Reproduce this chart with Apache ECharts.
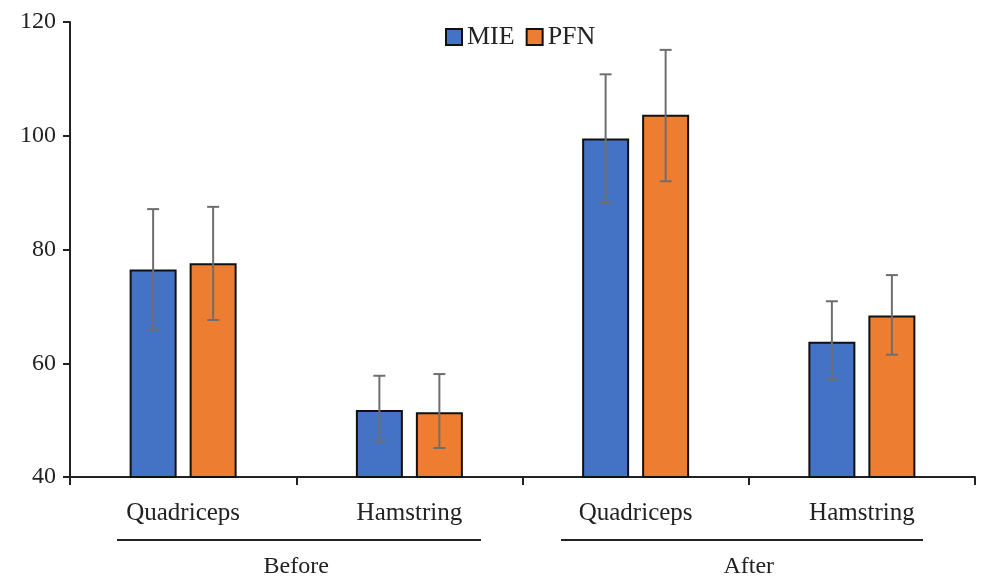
<!DOCTYPE html>
<html>
<head>
<meta charset="utf-8">
<script src="https://cdn.jsdelivr.net/npm/echarts@6/dist/echarts.min.js"></script>
<style>
    html, body { margin: 0; padding: 0; background: #fff; }
    #main { width: 981px; height: 579px; }
</style>
</head>
<body>
<div id="main"></div>
<script>
// data
var categories = ['Quadriceps', 'Hamstring', 'Quadriceps', 'Hamstring'];
var groups = ['Before', 'After'];
var mieMean = [76.5, 51.8, 99.5, 63.8];
var mieLow = [65.9, 46.2, 88.2, 57.1];
var mieHigh = [87.1, 57.8, 110.8, 70.9];
var pfnMean = [77.6, 51.4, 103.7, 68.4];
var pfnLow = [67.6, 45.1, 92.0, 61.5];
var pfnHigh = [87.5, 58.1, 115.1, 75.5];
var yTicks = [40, 60, 80, 100, 120];

(function() {
    var myChart = echarts.init(document.getElementById('main'));
    var font = '"Liberation Serif", "Times New Roman", serif';
    var barW = 47;
    var gap = 13;

    // error bars drawn via custom series
    function errorSeries(low, high, shift) {
        var data = low.map(function(v, i) { return [i, v, high[i]]; });
        return {
            type: 'custom',
            data: data,
            z: 10,
            silent: true,
            renderItem: function(params, api) {
                var lo = api.coord([api.value(0), api.value(1)]);
                var hi = api.coord([api.value(0), api.value(2)]);
                var x = lo[0] + shift;
                var cap = 6;
                var st = { stroke: '#6e6e6e', lineWidth: 2 };
                return {
                    type: 'group',
                    children: [
                        { type: 'line', shape: { x1: x, y1: lo[1], x2: x, y2: hi[1] }, style: st },
                        { type: 'line', shape: { x1: x - cap, y1: lo[1], x2: x + cap, y2: lo[1] }, style: st },
                        { type: 'line', shape: { x1: x - cap, y1: hi[1], x2: x + cap, y2: hi[1] }, style: st }
                    ]
                };
            },
            encode: { x: 0, y: [1, 2] }
        };
    }

    var option = {
        backgroundColor: '#fff',
        animation: false,
        textStyle: { fontFamily: font },
        legend: {
            left: 440,
            top: 19,
            icon: 'rect',
            itemWidth: 16,
            itemHeight: 16,
            itemGap: 11,
            textStyle: { fontFamily: font, fontSize: 26, color: '#222', padding: [0, 0, 0, 0] },
            data: ['MIE', 'PFN']
        },
        grid: {
            left: 70,
            right: 6,
            top: 22,
            bottom: 102
        },
        xAxis: [{
            type: 'category',
            data: categories,
            axisLine: { lineStyle: { color: '#222', width: 2 } },
            axisTick: { show: true, length: 8, lineStyle: { color: '#222', width: 2 } },
            axisLabel: { fontFamily: font, fontSize: 25, color: '#222', margin: 24 }
        }, {
            type: 'category',
            data: groups,
            position: 'bottom',
            offset: 70,
            axisLine: { show: false },
            axisTick: { show: false },
            axisLabel: { fontFamily: font, fontSize: 24, color: '#222', margin: 8 }
        }],
        yAxis: {
            type: 'value',
            min: yTicks[0],
            max: yTicks[yTicks.length - 1],
            interval: 20,
            splitLine: { show: false },
            axisLine: { show: true, lineStyle: { color: '#222', width: 2 } },
            axisTick: { show: true, length: 7, lineStyle: { color: '#222', width: 2 } },
            axisLabel: { fontFamily: font, fontSize: 24, color: '#222', margin: 14 }
        },
        graphic: [
            { type: 'line', shape: { x1: 117, y1: 540, x2: 481, y2: 540 }, style: { stroke: '#222', lineWidth: 2 } },
            { type: 'line', shape: { x1: 561, y1: 540, x2: 923, y2: 540 }, style: { stroke: '#222', lineWidth: 2 } }
        ],
        series: [{
            name: 'MIE',
            type: 'bar',
            barWidth: barW,
            barGap: (gap / barW * 100) + '%',
            data: mieMean,
            itemStyle: { color: '#4472C4', borderColor: '#111', borderWidth: 2 }
        }, {
            name: 'PFN',
            type: 'bar',
            barWidth: barW,
            data: pfnMean,
            itemStyle: { color: '#ED7D31', borderColor: '#111', borderWidth: 2 }
        },
            errorSeries(mieLow, mieHigh, -(barW + gap) / 2),
            errorSeries(pfnLow, pfnHigh, (barW + gap) / 2)
        ]
    };
    myChart.setOption(option);
    window.addEventListener('resize', function() {
        myChart.resize();
    });
})();
</script>
</body>
</html>
